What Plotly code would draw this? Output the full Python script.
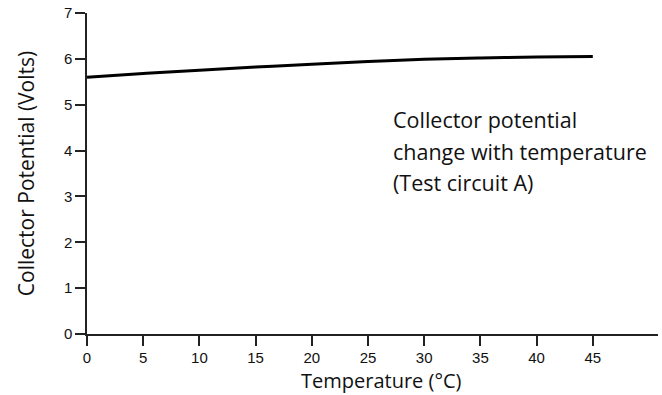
import plotly.graph_objects as go

temperature = [0, 5, 10, 15, 20, 25, 30, 35, 40, 45]
collector_volts = [5.60, 5.68, 5.75, 5.82, 5.88, 5.94, 5.99, 6.02, 6.04, 6.05]
x_ticks = [0, 5, 10, 15, 20, 25, 30, 35, 40, 45]
y_ticks = [0, 1, 2, 3, 4, 5, 6, 7]
note_lines = ["Collector potential", "change with temperature", "(Test circuit A)"]
note_y = [4.68, 3.99, 3.30]

fig = go.Figure()
fig.add_trace(go.Scatter(x=temperature, y=collector_volts, mode="lines",
                         line=dict(color="black", width=3, shape="spline"),
                         showlegend=False))

for txt, yy in zip(note_lines, note_y):
    fig.add_annotation(x=27.05, y=yy, xref="x", yref="y", xanchor="left", yanchor="middle",
                       align="left", showarrow=False, text=txt,
                       font=dict(family="Open Sans", size=21.5, color="#111"))

# x-axis title placed slightly right of plot centre, as in the reference
fig.add_annotation(x=(381 - 87) / (662 - 87 - 4), y=-(395 - 334) / (334 - 11),
                   xref="paper", yref="paper", showarrow=False, borderpad=0,
                   text="Temperature (°C)", xanchor="center", yanchor="bottom",
                   font=dict(family="Open Sans", size=20, color="#111"))

fig.update_layout(
    width=662, height=395,
    margin=dict(l=87, r=4, t=11, b=61),
    plot_bgcolor="white", paper_bgcolor="white",
    xaxis=dict(range=[0, 50.8], tickvals=x_ticks, ticks="outside", ticklen=10,
               tickcolor="#222", tickwidth=1.5, ticklabelstandoff=-1,
               showline=True, linecolor="#222", linewidth=1.5, showgrid=False, zeroline=False,
               tickfont=dict(family="Liberation Sans", size=15, color="#111")),
    yaxis=dict(range=[0, 7], tickvals=y_ticks, ticks="outside", ticklen=10,
               tickcolor="#222", tickwidth=1.5,
               showline=True, linecolor="#222", linewidth=1.5, showgrid=False, zeroline=False,
               tickfont=dict(family="Liberation Sans", size=15, color="#111"),
               title=dict(text="Collector Potential (Volts)", standoff=24,
                          font=dict(family="Open Sans", size=21, color="#111"))),
)

fig.write_html("out.html")
